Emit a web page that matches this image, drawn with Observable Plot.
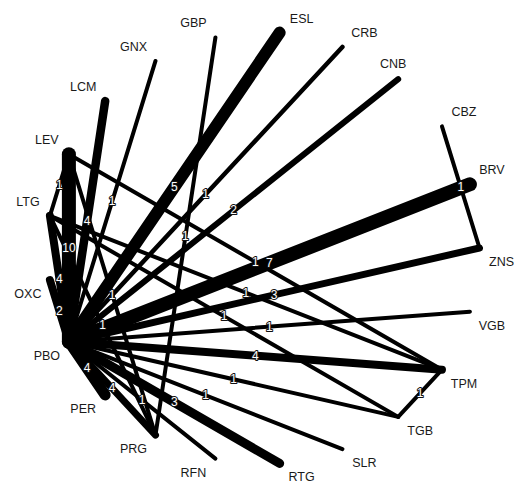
<!DOCTYPE html>
<html>
<head>
<meta charset="utf-8">
<script src="https://cdn.jsdelivr.net/npm/d3@7"></script>
<script src="https://cdn.jsdelivr.net/npm/@observablehq/plot@0.6"></script>
<style>
  html, body { margin: 0; padding: 0; background: #fff; }
  #chart svg { display: block; }
</style>
</head>
<body>
<div id="chart"></div>
<script>
// Treatments, arranged alphabetically around a circle
const treatments = ["BRV","CBZ","CNB","CRB","ESL","GBP","GNX","LCM","LEV","LTG","OXC",
                    "PBO","PER","PRG","RFN","RTG","SLR","TGB","TPM","VGB","ZNS"];

// Network comparisons
const edgeFrom = ["PBO","CBZ","PBO","PBO","PBO","GBP","PBO","PBO","LEV","PBO","LEV","LEV","PBO",
                  "LTG","LTG","LTG","PBO","PBO","PBO","PBO","PBO","PBO","PBO","PBO","PBO","PBO","TGB"];
const edgeTo   = ["BRV","ZNS","CNB","CRB","ESL","PRG","GNX","LCM","LTG","LEV","PRG","TPM","LTG",
                  "PRG","TGB","TPM","OXC","PER","PRG","RFN","RTG","SLR","TGB","TPM","VGB","ZNS","TPM"];
// Number of studies per comparison
const nStudies = [7,1,2,1,5,1,1,4,1,10,1,1,4,1,1,1,2,4,4,1,3,1,1,4,1,3,1];
// Relative precision of each comparison (drives line thickness)
const precision = [14,4,6,4.5,12,4,4,8.5,4,14,4,4,8,4,4,4,8,11,7,4,9,4,4,8,4,7,4];

const step = 2 * Math.PI / treatments.length;
const nodes = treatments.map((name, i) => {
  const a = (i + 1) * step;
  return {name, x: Math.cos(a), y: Math.sin(a)};
});
const pos = new Map(nodes.map(d => [d.name, d]));

const edges = edgeFrom.map((f, i) => {
  const a = pos.get(f), b = pos.get(edgeTo[i]);
  return {x1: a.x, y1: a.y, x2: b.x, y2: b.y,
          mx: (a.x + b.x) / 2, my: (a.y + b.y) / 2,
          n: nStudies[i], w: precision[i]};
});

const labelStyle = {x: "x", y: "y", text: "name", fill: "#1a1a1a", fontSize: 12.5};
const quadrant = (right, up) => Plot.text(
  nodes.filter(d => d.name !== "CNB" && (d.x > 0) === right && (d.y > 0.01) === up),
  {...labelStyle, dx: right ? 22 : -22, dy: up ? -14 : 14}
);

const chart = Plot.plot({
  width: 514,
  height: 484,
  margin: 0,
  x: {domain: [-1, 1], range: [47, 479], axis: null},
  y: {domain: [-1, 1], range: [463.5, 31.5], axis: null},
  style: {fontFamily: "Liberation Sans, Arial, Helvetica, sans-serif", background: "white"},
  marks: [
    Plot.link(edges, {
      x1: "x1", y1: "y1", x2: "x2", y2: "y2",
      stroke: "black",
      strokeWidth: d => d.w,
      strokeLinecap: "round"
    }),
    Plot.text(edges, {
      x: "mx", y: "my", text: d => String(d.n),
      fill: "white", stroke: "#111", strokeWidth: 2, paintOrder: "stroke",
      fontSize: 12
    }),
    quadrant(true, true),
    quadrant(true, false),
    quadrant(false, true),
    quadrant(false, false),
    Plot.text(nodes.filter(d => d.name === "CNB"), {...labelStyle, dx: -5, dy: -15})
  ]
});
document.getElementById("chart").appendChild(chart);
</script>
</body>
</html>
